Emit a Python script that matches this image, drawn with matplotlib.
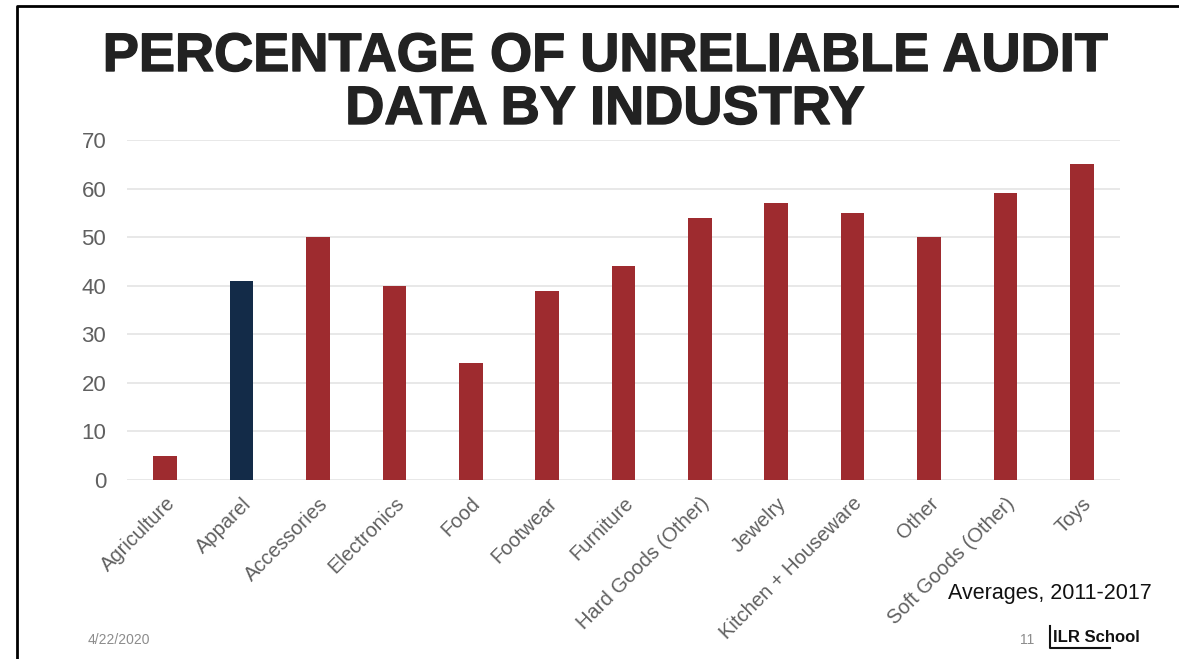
import matplotlib.pyplot as plt
import matplotlib.patheffects as pe
from matplotlib.lines import Line2D

plt.rcParams['font.family'] = ['Liberation Sans', 'DejaVu Sans']

industries = ['Agriculture', 'Apparel', 'Accessories', 'Electronics', 'Food',
              'Footwear', 'Furniture', 'Hard Goods (Other)', 'Jewelry',
              'Kitchen + Houseware', 'Other', 'Soft Goods (Other)', 'Toys']
pct_unreliable = [5, 41, 50, 40, 24, 39, 44, 54, 57, 55, 50, 59, 65]
highlight = 'Apparel'

red = '#9e2b2f'
navy = '#132b48'
colors = [navy if name == highlight else red for name in industries]

fig = plt.figure(figsize=(11.79, 6.59), dpi=100)
ax = fig.add_axes([127 / 1179, 1 - 480 / 659, 993 / 1179, 340 / 659])

x = range(len(industries))
ax.bar(x, pct_unreliable, width=0.31, color=colors, zorder=3)

ax.set_xlim(-0.5, len(industries) - 0.5)
ax.set_ylim(0, 70)
ax.set_yticks(range(0, 71, 10))
ax.grid(axis='y', color='#e4e4e4', linewidth=1.2, zorder=0)
for s in ax.spines.values():
    s.set_visible(False)
ax.tick_params(axis='both', length=0, colors='#606060')
ax.tick_params(axis='y', pad=15, labelsize=16)
ax.set_xticks(list(x))
ax.set_xticklabels(industries, rotation=45, ha='right', rotation_mode='anchor',
                   fontsize=14.5)
ax.tick_params(axis='x', pad=10)

# title: heavier weight, a bit wider like the slide font
title_fx = [pe.withStroke(linewidth=1.0, foreground='#222222')]
fig.text(605 / 1179, 1 - 57 / 659, 'PERCENTAGE OF UNRELIABLE AUDIT',
         ha='center', va='center', fontsize=39, fontweight='bold',
         color='#222222', path_effects=title_fx)
fig.text(605 / 1179, 1 - 110 / 659, 'DATA BY INDUSTRY',
         ha='center', va='center', fontsize=39, fontweight='bold',
         color='#222222', path_effects=title_fx)

fig.text(1152 / 1179, 1 - 593 / 659, 'Averages, 2011-2017', ha='right', va='center',
         fontsize=15.5, color='#111111')
fig.text(88 / 1179, 1 - 640 / 659, '4/22/2020', ha='left', va='center',
         fontsize=10, color='#8c8c8c')
fig.text(1027 / 1179, 1 - 640 / 659, '11', ha='center', va='center',
         fontsize=10, color='#8c8c8c')
fig.text(1053 / 1179, 1 - 637 / 659, 'ILR School', ha='left', va='center',
         fontsize=12, fontweight='bold', color='#111111')

# logo bracket and slide border
fig.add_artist(Line2D([1050 / 1179, 1050 / 1179, 1110 / 1179],
                      [1 - 626 / 659, 1 - 648 / 659, 1 - 648 / 659],
                      color='#111111', linewidth=1.5))
fig.add_artist(Line2D([17 / 1179, 17 / 1179, 1], [0, 1 - 6 / 659, 1 - 6 / 659],
                      color='black', linewidth=2))

fig.savefig('out.png', dpi=100)
